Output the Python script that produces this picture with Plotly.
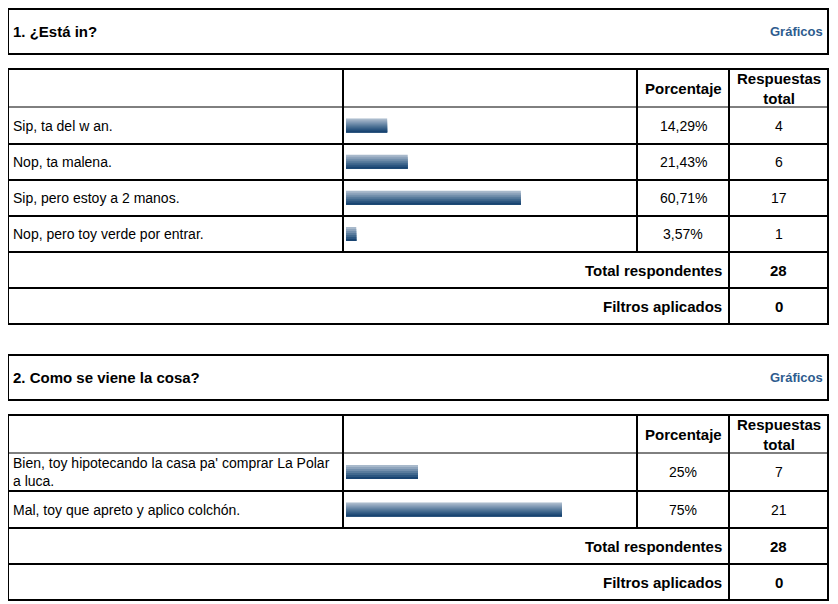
import plotly.graph_objects as go

W, H = 838, 604

# ---- data ----
q1_title = "1. ¿Está in?"
q1_labels = ["Sip, ta del w an.", "Nop, ta malena.", "Sip, pero estoy a 2 manos.",
             "Nop, pero toy verde por entrar."]
q1_pct = [14.29, 21.43, 60.71, 3.57]
q1_counts = [4, 6, 17, 1]
q1_total = 28
q1_filters = 0

q2_title = "2. Como se viene la cosa?"
q2_labels = ["Bien, toy hipotecando la casa pa' comprar La Polar<br>a luca.",
             "Mal, toy que apreto y aplico colchón."]
q2_pct = [25, 75]
q2_counts = [7, 21]
q2_total = 28
q2_filters = 0

col_pct = "Porcentaje"
col_count = "Respuestas<br>total"
lbl_total = "Total respondentes"
lbl_filters = "Filtros aplicados"
lbl_link = "Gráficos"

# gradient of the little bars, top to bottom
bar_colors = ["#a8b9cb", "#8ea4bc", "#7490ad", "#5a7c9d", "#42698e", "#2c5680", "#194471"]

FONT = "Liberation Sans, Arial, sans-serif"
X0, XC1, XC2, XC3, X1 = 8, 343, 637, 729, 828
BAR_X0, BAR_X1 = 346, 634
BAR_H = 14
BOLD = 15
OFF = 8  # page body margin the browser adds round the figure


def px(x):
    return (x - OFF) / W


def py(y):
    return 1 - (y - OFF) / H


def fmt_pct(p):
    if p == int(p):
        return "%d%%" % p
    return ("%.2f%%" % p).replace(".", ",")


fig = go.Figure()
shapes = []
annots = []


def line(x0, y0, x1, y1, w=2):
    shapes.append(dict(type="line", xref="paper", yref="paper",
                       x0=px(x0), y0=py(y0), x1=px(x1), y1=py(y1),
                       line=dict(color="black", width=w)))


def text(x, y, s, anchor="left", bold=False, color="black", size=None):
    if size is None:
        size = BOLD if bold else 14
    if bold:
        s = "<b>" + s.replace("<br>", "</b><br><b>") + "</b>"
    annots.append(dict(xref="paper", yref="paper", x=px(x), y=py(y), text=s,
                       xanchor=anchor, yanchor="middle", showarrow=False,
                       align="center" if anchor == "center" else anchor,
                       borderpad=0,
                       font=dict(family=FONT, size=size, color=color)))


def section(top, title, labels, pcts, counts, total, filters, row_edges, n):
    # title box
    shapes.append(dict(type="rect", xref="paper", yref="paper",
                       x0=px(X0), y0=py(top), x1=px(X1), y1=py(top + 45),
                       line=dict(color="black", width=2)))
    text(12, top + 22, title, bold=True)
    text(824, top + 22, lbl_link, anchor="right", bold=True, color="#2e5c8e", size=13)

    t = top + 60
    hb = t + 38
    body_end = row_edges[-1]
    tot_end = body_end + 36
    fil_end = tot_end + 36
    shapes.append(dict(type="rect", xref="paper", yref="paper",
                       x0=px(X0), y0=py(t), x1=px(X1), y1=py(fil_end),
                       line=dict(color="black", width=2)))
    line(X0, hb, X1, hb, 1)
    for e in row_edges[1:]:
        line(X0, e, X1, e, 2)
    line(X0, tot_end, X1, tot_end, 2)
    line(XC1, t, XC1, body_end)
    line(XC2, t, XC2, body_end)
    line(XC3, t, XC3, fil_end)

    text((XC2 + XC3) / 2, t + 19, col_pct, anchor="center", bold=True)
    text((XC3 + X1) / 2, t + 19, col_count, anchor="center", bold=True)

    for i, lab in enumerate(labels):
        y0, y1 = row_edges[i], row_edges[i + 1]
        yc = (y0 + y1) / 2
        text(12, yc, lab)
        text((XC2 + XC3) / 2, yc, fmt_pct(pcts[i]), anchor="center")
        text((XC3 + X1) / 2, yc, str(counts[i]), anchor="center")

    text(723, (body_end + tot_end) / 2, lbl_total, anchor="right", bold=True)
    text((XC3 + X1) / 2, (body_end + tot_end) / 2, str(total), anchor="center", bold=True)
    text(723, (tot_end + fil_end) / 2, lbl_filters, anchor="right", bold=True)
    text((XC3 + X1) / 2, (tot_end + fil_end) / 2, str(filters), anchor="center", bold=True)

    # bars: one axis pair per section, rows spaced evenly
    centers = [(row_edges[i] + row_edges[i + 1]) / 2 for i in range(len(labels))]
    pitch = (centers[-1] - centers[0]) / (len(labels) - 1)
    d_top = centers[0] - pitch / 2
    d_bot = centers[-1] + pitch / 2
    unit = BAR_H / pitch
    sh = unit / len(bar_colors)
    ax = "" if n == 1 else str(n)
    # each layer runs from its band down to the bar bottom, so no seams show
    for k, c in enumerate(bar_colors):
        fig.add_trace(go.Bar(
            x=pcts, y=list(range(len(labels))), orientation="h",
            width=unit - k * sh, offset=-unit / 2 + k * sh,
            marker=dict(color=c, line=dict(width=0)),
            xaxis="x" + ax, yaxis="y" + ax, hoverinfo="skip", showlegend=False))
    lay = {}
    lay["xaxis" + ax] = dict(domain=[px(BAR_X0), px(BAR_X1)], range=[0, 100],
                             visible=False, fixedrange=True, anchor="y" + ax)
    lay["yaxis" + ax] = dict(domain=[py(d_bot), py(d_top)],
                             range=[len(labels) - 0.5, -0.5],
                             visible=False, fixedrange=True, anchor="x" + ax)
    fig.update_layout(**lay)


section(9, q1_title, q1_labels, q1_pct, q1_counts, q1_total, q1_filters,
        [107, 144, 180, 216, 252], 1)
section(355, q2_title, q2_labels, q2_pct, q2_counts, q2_total, q2_filters,
        [453, 491, 528], 2)

fig.update_layout(
    width=W, height=H,
    margin=dict(l=0, r=0, t=0, b=0),
    paper_bgcolor="white", plot_bgcolor="rgba(0,0,0,0)",
    barmode="overlay",
    shapes=shapes, annotations=annots,
    font=dict(family=FONT, size=14, color="black"),
)

fig.write_html("out.html", config={"displayModeBar": False})
